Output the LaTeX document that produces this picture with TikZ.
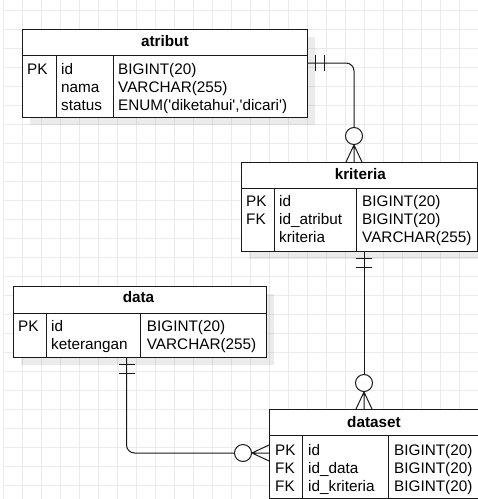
\documentclass[tikz,border=0pt]{standalone}
\usepackage{fontspec}
\setmainfont{Liberation Sans}
\usetikzlibrary{calc}
\pgfdeclarelayer{gridlayer}
\pgfdeclarelayer{shadowlayer}
\pgfsetlayers{gridlayer,shadowlayer,main}
\tikzset{
  tblbox/.style={draw=black!90, line width=1pt, fill=white, anchor=north west, inner sep=0pt, outer sep=0pt},
  txt/.style={anchor=base west, inner sep=0pt, font=\fontsize{15.3}{18}\selectfont},
  ttl/.style={anchor=base, inner sep=0pt, font=\fontsize{15.3}{18}\selectfont\bfseries},
  conn/.style={draw=black!90, line width=1pt},
  endc/.style={draw=black!90, line width=1pt, fill=white},
  gridln/.style={draw=black!8, line width=0.8pt},
  shadowc/.style={fill=black, opacity=0.08},
}
\newcommand\erbox[6]{%
  \node[tblbox, minimum width=#4pt, minimum height=#5pt] (#1-h) at (#2,#3) {};
  \node[tblbox, minimum width=#4pt, minimum height=#6pt] (#1-b) at (#1-h.south west) {};
  \begin{pgfonlayer}{shadowlayer}
    \fill[shadowc] ([shift={(8,8)}]#1-h.north west) rectangle ([shift={(8,8)}]#1-b.south east);
  \end{pgfonlayer}
}
\begin{document}
\begin{tikzpicture}[x=1pt,y=-1pt]
\useasboundingbox (0,0) rectangle (478,499);
\begin{pgfonlayer}{gridlayer}
  \fill[white] (0,0) rectangle (478,499);
  \foreach \i in {0,...,24} \draw[gridln] ({3.3+19*\i},0) -- ({3.3+19*\i},499);
  \foreach \j in {0,...,25} \draw[gridln] (3.3,{10.7+19*\j}) -- (478,{10.7+19*\j});
\end{pgfonlayer}

% ---------- atribut ----------
\erbox{atribut}{22}{29}{285}{26}{62}
\draw[conn] ([xshift=34pt]atribut-b.north west) -- ([xshift=34pt]atribut-b.south west);
\draw[conn] ([xshift=91pt]atribut-b.north west) -- ([xshift=91pt]atribut-b.south west);
\node[ttl] (atribut-t) at (164.8,46.7) {atribut};
\node[txt] (atribut-k1) at (27,74.5) {PK};
\node[txt] (atribut-n1) at (61,74.5) {id};
\node[txt] (atribut-n2) at (61,92.5) {nama};
\node[txt] (atribut-n3) at (61,110.5) {status};
\node[txt] (atribut-y1) at (118,74.5) {BIGINT(20)};
\node[txt] (atribut-y2) at (118,92.5) {VARCHAR(255)};
\node[txt] (atribut-y3) at (118,110.5) {ENUM(\textquotesingle diketahui\textquotesingle,\textquotesingle dicari\textquotesingle)};

% ---------- kriteria ----------
\erbox{kriteria}{241}{162}{236}{26}{63}
\draw[conn] ([xshift=33pt]kriteria-b.north west) -- ([xshift=33pt]kriteria-b.south west);
\draw[conn] ([xshift=115pt]kriteria-b.north west) -- ([xshift=115pt]kriteria-b.south west);
\node[ttl] (kriteria-t) at (360.3,179.3) {kriteria};
\node[txt] (kriteria-k1) at (246,206.8) {PK};
\node[txt] (kriteria-k2) at (246,224.8) {FK};
\node[txt] (kriteria-n1) at (279,206.8) {id};
\node[txt] (kriteria-n2) at (279,224.8) {id\_atribut};
\node[txt] (kriteria-n3) at (279,242.8) {kriteria};
\node[txt] (kriteria-y1) at (362,206.8) {BIGINT(20)};
\node[txt] (kriteria-y2) at (362,224.8) {BIGINT(20)};
\node[txt] (kriteria-y3) at (362,242.8) {VARCHAR(255)};

% ---------- data ----------
\erbox{data}{13}{286}{253}{27}{44}
\draw[conn] ([xshift=33pt]data-b.north west) -- ([xshift=33pt]data-b.south west);
\draw[conn] ([xshift=127pt]data-b.north west) -- ([xshift=127pt]data-b.south west);
\node[ttl] (data-t) at (138.5,302.7) {data};
\node[txt] (data-k1) at (18,331.7) {PK};
\node[txt] (data-n1) at (51,331.7) {id};
\node[txt] (data-n2) at (51,349.7) {keterangan};
\node[txt] (data-y1) at (146.7,331.7) {BIGINT(20)};
\node[txt] (data-y2) at (146.7,349.7) {VARCHAR(255)};

% ---------- dataset ----------
\erbox{dataset}{269}{409}{210}{26}{63}
\draw[conn] ([xshift=33pt]dataset-b.north west) -- ([xshift=33pt]dataset-b.south west);
\draw[conn] ([xshift=119pt]dataset-b.north west) -- ([xshift=119pt]dataset-b.south west);
\node[ttl] (dataset-t) at (374,427.3) {dataset};
\node[txt] (dataset-k1) at (275,455) {PK};
\node[txt] (dataset-k2) at (275,473) {FK};
\node[txt] (dataset-k3) at (275,491) {FK};
\node[txt] (dataset-n1) at (308,455) {id};
\node[txt] (dataset-n2) at (308,473) {id\_data};
\node[txt] (dataset-n3) at (308,491) {id\_kriteria};
\node[txt] (dataset-y1) at (394,455) {BIGINT(20)};
\node[txt] (dataset-y2) at (394,473) {BIGINT(20)};
\node[txt] (dataset-y3) at (394,491) {BIGINT(20)};

% ---------- connector atribut -> kriteria ----------
\coordinate (a-out) at ([yshift=-8pt]atribut-b.north east);
\coordinate (k-top) at ([xshift=-5pt]kriteria-h.north);
\draw[conn, rounded corners=8pt] (a-out) -| ($(k-top)+(0,-34.5)$);
\draw[conn] ($(a-out)+(8,-8)$) -- ($(a-out)+(8,8)$)
            ($(a-out)+(17,-8)$) -- ($(a-out)+(17,8)$);
\draw[conn] ($(k-top)+(0,-17)$) -- ($(k-top)+(-8,0)$)
            ($(k-top)+(0,-17)$) -- (k-top)
            ($(k-top)+(0,-17)$) -- ($(k-top)+(8,0)$);
\draw[endc] ($(k-top)+(0,-26)$) circle (8.5pt);

% ---------- connector kriteria -> dataset ----------
\coordinate (k-out) at ([xshift=5pt]kriteria-b.south);
\coordinate (ds-top) at (k-out |- dataset-h.north);
\draw[conn] (k-out) -- ($(ds-top)+(0,-34.5)$);
\draw[conn] ($(k-out)+(-8,7)$) -- ($(k-out)+(8,7)$)
            ($(k-out)+(-8,16)$) -- ($(k-out)+(8,16)$);
\draw[conn] ($(ds-top)+(0,-17)$) -- ($(ds-top)+(-8,0)$)
            ($(ds-top)+(0,-17)$) -- (ds-top)
            ($(ds-top)+(0,-17)$) -- ($(ds-top)+(8,0)$);
\draw[endc] ($(ds-top)+(0,-26)$) circle (8.5pt);

% ---------- connector data -> dataset ----------
\coordinate (d-out) at ([xshift=-13pt]data-b.south);
\coordinate (ds-left) at ([yshift=-18pt]dataset-b.north west);
\draw[conn, rounded corners=8pt] (d-out) |- ($(ds-left)+(-34.5,0)$);
\draw[conn] ($(d-out)+(-8,7)$) -- ($(d-out)+(8,7)$)
            ($(d-out)+(-8,16)$) -- ($(d-out)+(8,16)$);
\draw[conn] ($(ds-left)+(-17,0)$) -- ($(ds-left)+(0,-8)$)
            ($(ds-left)+(-17,0)$) -- (ds-left)
            ($(ds-left)+(-17,0)$) -- ($(ds-left)+(0,8)$);
\draw[endc] ($(ds-left)+(-26,0)$) circle (8.5pt);
\end{tikzpicture}
\end{document}
